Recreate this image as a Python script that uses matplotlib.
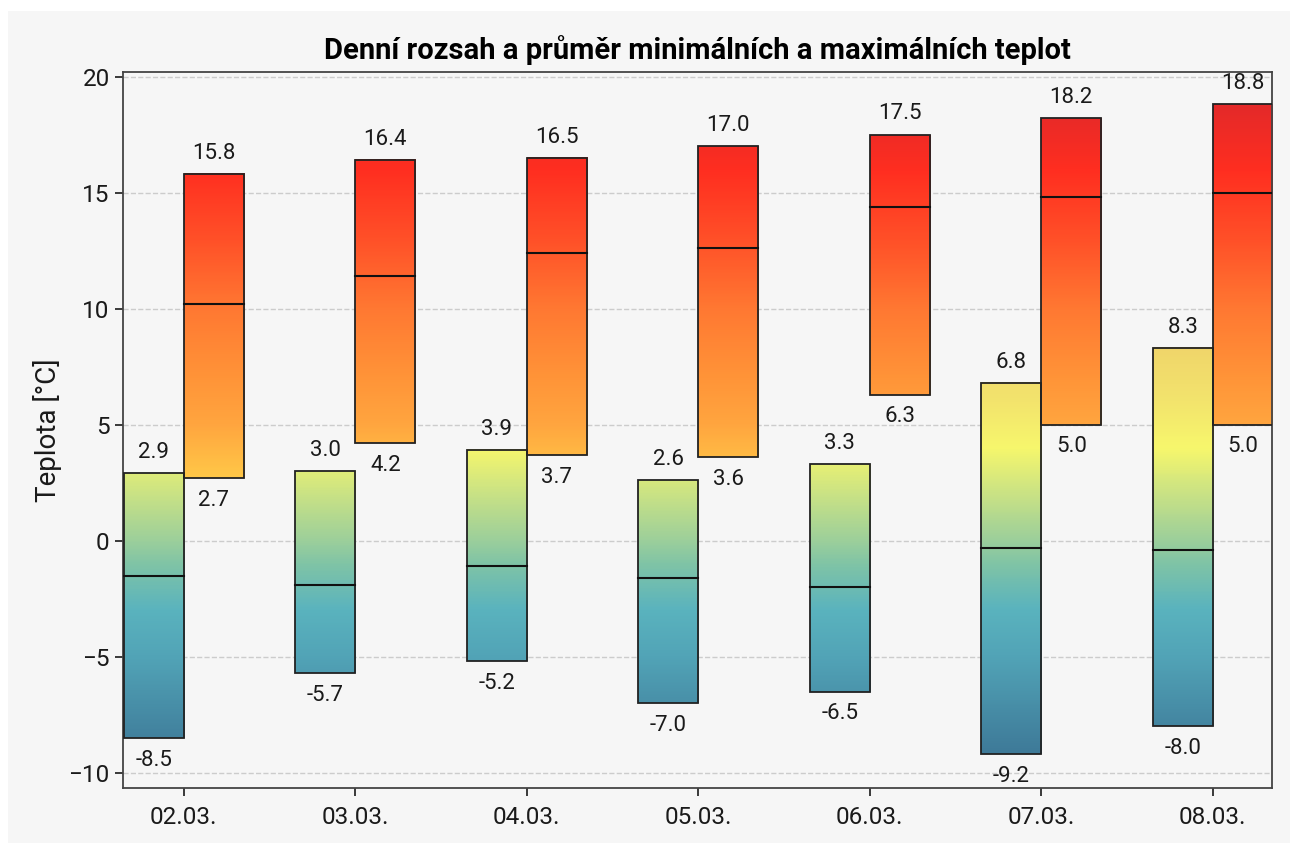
"""
Denni rozsah a prumer minimalnich a maximalnich teplot - gradientni sloupce.
"""

import matplotlib
matplotlib.use("Agg")
import matplotlib.pyplot as plt
import numpy as np
from matplotlib.colors import LinearSegmentedColormap, Normalize
from matplotlib.patches import Rectangle


days = ["02.03.", "03.03.", "04.03.", "05.03.", "06.03.", "07.03.", "08.03."]

# minimalni teploty: rozsah (od, do) a prumer
min_low = [-8.5, -5.7, -5.2, -7.0, -6.5, -9.2, -8.0]
min_high = [2.9, 3.0, 3.9, 2.6, 3.3, 6.8, 8.3]
min_mean = [-1.5, -1.9, -1.1, -1.6, -2.0, -0.3, -0.4]

# maximalni teploty
max_low = [2.7, 4.2, 3.7, 3.6, 6.3, 5.0, 5.0]
max_high = [15.8, 16.4, 16.5, 17.0, 17.5, 18.2, 18.8]
max_mean = [10.2, 11.4, 12.4, 12.6, 14.4, 14.8, 15.0]

plt.rcParams["font.family"] = ["Roboto", "DejaVu Sans"]

# barevne skaly (hodnota -> barva)
cold_norm = Normalize(-10, 10)
cold_cmap = LinearSegmentedColormap.from_list("cold", [
    (0.00, "#3a6f8f"),
    (0.05, "#3f7c9a"),
    (0.25, "#52a4b7"),
    (0.35, "#5ab3be"),
    (0.45, "#80c4a6"),
    (0.50, "#9ccf9b"),
    (0.60, "#c9e285"),
    (0.70, "#f7f76c"),
    (0.80, "#f3e46d"),
    (1.00, "#eecb68"),
])
warm_norm = Normalize(0, 20)
warm_cmap = LinearSegmentedColormap.from_list("warm", [
    (0.00, "#ffd84c"),
    (0.125, "#ffca48"),
    (0.25, "#ffa53f"),
    (0.35, "#ff9438"),
    (0.50, "#ff7832"),
    (0.65, "#ff5028"),
    (0.80, "#ff2e20"),
    (0.95, "#e2292a"),
    (1.00, "#d8282a"),
])

fig = plt.figure(figsize=(12.9, 8.43), dpi=100, facecolor="white")
fig.patches.append(Rectangle((8 / 1290, 0), 1, 1 - 11 / 843, transform=fig.transFigure,
                             facecolor="#f6f6f6", edgecolor="none", zorder=-10))
ax = fig.add_axes([0.0953, 0.0653, 0.8907, 0.8493])
ax.set_facecolor("#f6f6f6")

width = 0.35
x = np.arange(len(days))
txt = "#1a1a1a"


def gradient_bar(x0, low, high, mean, cmap, norm):
    vals = np.linspace(low, high, 200).reshape(-1, 1)
    ax.imshow(vals, cmap=cmap, norm=norm, origin="lower", aspect="auto",
              extent=(x0, x0 + width, low, high), zorder=2, interpolation="bilinear")
    ax.add_patch(Rectangle((x0, low), width, high - low, facecolor="none",
                           edgecolor="#222222", linewidth=1.3, zorder=3))
    ax.plot([x0, x0 + width], [mean, mean], color="#111111", linewidth=1.5, zorder=4)
    cx = x0 + width / 2
    ax.annotate(f"{high:.1f}", (cx, high), xytext=(0, 15), textcoords="offset points",
                ha="center", va="center", fontsize=16, color=txt,
                annotation_clip=False, zorder=5)
    ax.annotate(f"{low:.1f}", (cx, low), xytext=(0, -16), textcoords="offset points",
                ha="center", va="center", fontsize=16, color=txt,
                annotation_clip=False, zorder=5)


for i in x:
    gradient_bar(i - width, min_low[i], min_high[i], min_mean[i], cold_cmap, cold_norm)
    gradient_bar(i, max_low[i], max_high[i], max_mean[i], warm_cmap, warm_norm)

ax.set_xlim(-width - 0.005, len(days) - 1 + width - 0.005)
ax.set_ylim(-10.65, 20.2)
ax.set_xticks(x)
ax.set_xticklabels(days)
ax.set_yticks([-10, -5, 0, 5, 10, 15, 20])
ax.tick_params(labelsize=17.5, colors=txt, length=6, width=1.2)
ax.tick_params(axis="x", pad=7)
ax.grid(axis="y", linestyle="--", color="#cccccc", linewidth=1, zorder=0)
ax.set_axisbelow(True)
for s in ax.spines.values():
    s.set_color("#444444")
    s.set_linewidth(1.3)

ax.set_ylabel("Teplota [°C]", fontsize=20, color=txt, labelpad=5)
ax.set_title("Denní rozsah a průměr minimálních a maximálních teplot",
             fontsize=21, fontweight="bold", pad=9)

fig.savefig("out.png", dpi=100, facecolor=fig.get_facecolor())
